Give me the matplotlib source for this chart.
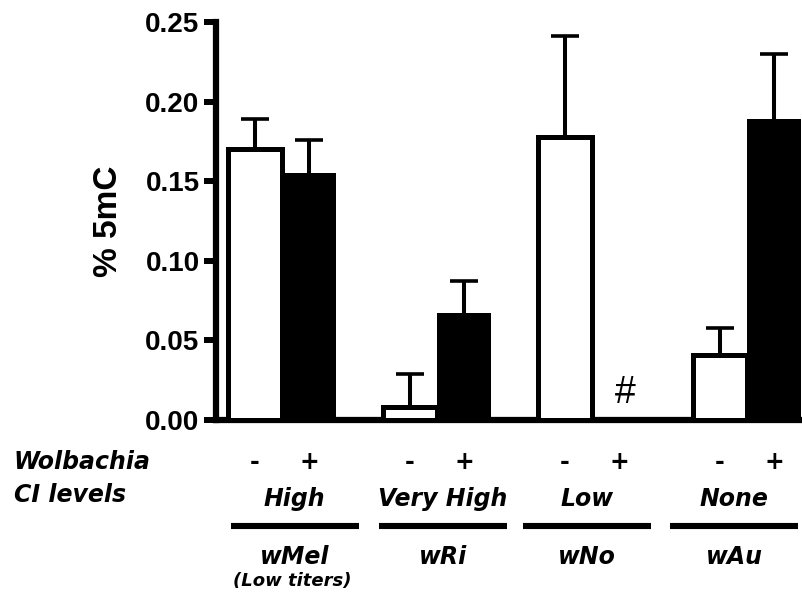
import numpy as np
import matplotlib
matplotlib.use("Agg")
import matplotlib.pyplot as plt
import matplotlib.transforms as mtransforms

# values (% 5mC, mean and upper error)
strains = ["wMel", "wRi", "wNo", "wAu"]
ci_levels = ["High", "Very High", "Low", "None"]
wolb_signs = ["-", "+"]
minus_mean = [0.170, 0.008, 0.178, 0.041]
minus_err = [0.019, 0.021, 0.063, 0.017]
plus_mean = [0.155, 0.067, 0.0, 0.189]
plus_err = [0.021, 0.020, 0.0, 0.041]
missing = [False, False, True, False]   # wNo + has no data -> "#"
yticks = [0.00, 0.05, 0.10, 0.15, 0.20, 0.25]

W, H = 802, 598
fig = plt.figure(figsize=(W / 100, H / 100), dpi=100)
ax = fig.add_axes([215.5 / W, 1 - 420 / H, (W - 215.5) / W, (420 - 22) / H])

step = 155 / 54
pos = np.arange(len(strains)) * step
x_minus = pos + 0.5
x_plus = pos + 1.5

ax.bar(x_minus, minus_mean, width=1.0, color="white", edgecolor="black",
       linewidth=3.6, zorder=3)
plus_show = [0 if m else v for v, m in zip(plus_mean, missing)]
ax.bar(x_plus, plus_show, width=1.0, color="black", edgecolor="black",
       linewidth=0, zorder=3)


def upper_errorbar(x, y, e):
    # only the upward half of the error bar, with a single cap on top
    _, caps, _ = ax.errorbar(x, y, yerr=[np.zeros(len(e)), e], fmt="none",
                             ecolor="black", elinewidth=2.9, capsize=10.4,
                             capthick=2.6, zorder=2)
    for cap in caps:
        if np.allclose(cap.get_ydata(), y):
            cap.set_visible(False)


upper_errorbar(x_minus, np.array(minus_mean), np.array(minus_err))
keep = [i for i, m in enumerate(missing) if not m]
upper_errorbar(x_plus[keep], np.array(plus_mean)[keep], np.array(plus_err)[keep])

for i, m in enumerate(missing):
    if m:
        ax.text(x_plus[i] + 0.12, 0.017, "#", ha="center", va="center",
                fontsize=27, family="Liberation Sans", zorder=4)

ax.set_xlim((215.5 - 228) / 54, (W - 228) / 54)
ax.set_ylim(0, 0.25)
ax.set_yticks(yticks)
ax.set_yticklabels(["%.2f" % t for t in yticks], fontsize=20,
                   fontweight="bold", family="Liberation Sans")
ax.set_xticks([])
ax.spines["top"].set_visible(False)
ax.spines["right"].set_visible(False)
ax.spines["left"].set_linewidth(4.5)
ax.spines["bottom"].set_linewidth(4.5)
ax.tick_params(axis="y", length=8.5, width=4.3, pad=3)
ax.set_ylabel("% 5mC", fontsize=24, fontweight="bold",
              family="Liberation Sans", labelpad=15)

# labels below the axis
tr = mtransforms.blended_transform_factory(ax.transData, fig.transFigure)


def fy(py):
    return 1 - py / H


lab = dict(fontsize=17, fontweight="bold", style="italic")
fig.text(13 / W, fy(469), "Wolbachia", ha="left", va="baseline", **lab)
fig.text(14 / W, fy(502), "CI levels", ha="left", va="baseline", **lab)

for i in range(len(strains)):
    ax.text(x_minus[i], fy(462), wolb_signs[0], transform=tr, ha="center",
            va="center", fontsize=17, fontweight="bold")
    ax.text(x_plus[i], fy(462), wolb_signs[1], transform=tr, ha="center",
            va="center", fontsize=17, fontweight="bold")

label_px = [294.5, 443, 587, 734]
for i, px in enumerate(label_px):
    c = (px - 228) / 54
    ax.text(c, fy(506), ci_levels[i], transform=tr, ha="center",
            va="baseline", **lab)
    ax.plot([c - 64 / 54, c + 64 / 54], [fy(526), fy(526)], transform=tr,
            color="black", linewidth=4.4, solid_capstyle="butt", clip_on=False)
    ax.text(c, fy(564), strains[i], transform=tr, ha="center",
            va="baseline", **lab)

c0 = (label_px[0] - 228) / 54
ax.text(c0 - 0.05, fy(586), "(Low titers)", transform=tr, ha="center",
        va="baseline", fontsize=13, fontweight="bold", style="italic")

fig.savefig("out.png", dpi=100)
